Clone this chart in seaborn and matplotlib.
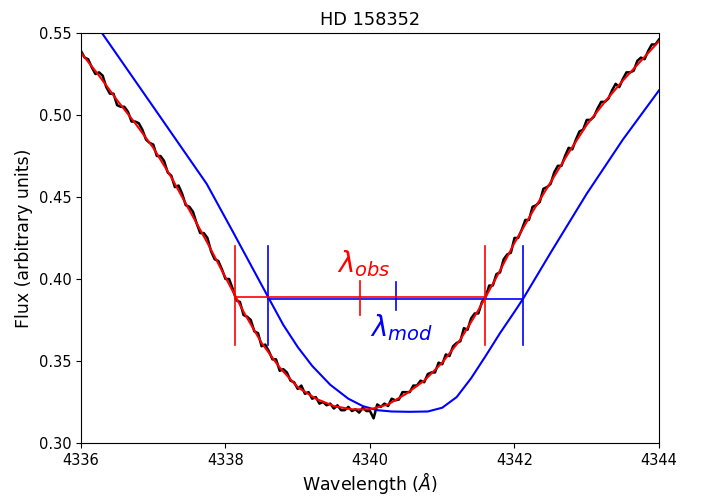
import numpy as np
import pandas as pd
import matplotlib
matplotlib.use("Agg")
import matplotlib.pyplot as plt
import seaborn as sns

# Observed spectrum (0.05 A sampling from 4336 to 4344)
obs_wave = np.linspace(4336.0, 4344.0, 161)
obs_flux = [
    0.539, 0.535, 0.534, 0.529, 0.525,
    0.526, 0.524, 0.517, 0.513, 0.513,
    0.506, 0.505, 0.505, 0.502, 0.496,
    0.496, 0.495, 0.491, 0.485, 0.483,
    0.482, 0.475, 0.475, 0.472, 0.465,
    0.463, 0.456, 0.457, 0.452, 0.445,
    0.444, 0.441, 0.434, 0.428, 0.428,
    0.425, 0.417, 0.412, 0.411, 0.406,
    0.400, 0.400, 0.394, 0.387, 0.386,
    0.378, 0.377, 0.375, 0.368, 0.367,
    0.359, 0.360, 0.356, 0.351, 0.351,
    0.344, 0.345, 0.343, 0.338, 0.337,
    0.333, 0.335, 0.330, 0.331, 0.327,
    0.328, 0.324, 0.325, 0.323, 0.324,
    0.321, 0.323, 0.320, 0.320, 0.322,
    0.3195, 0.3205, 0.3185, 0.3215, 0.3195,
    0.3195, 0.315, 0.3235, 0.322, 0.324,
    0.3225, 0.327, 0.326, 0.3265, 0.331,
    0.331, 0.331, 0.335, 0.335, 0.338,
    0.337, 0.342, 0.343, 0.343, 0.349,
    0.348, 0.354, 0.353, 0.359, 0.361,
    0.362, 0.370, 0.369, 0.376, 0.379,
    0.379, 0.386, 0.389, 0.396, 0.396,
    0.403, 0.404, 0.412, 0.415, 0.416,
    0.425, 0.425, 0.430, 0.436, 0.436,
    0.444, 0.445, 0.447, 0.455, 0.456,
    0.458, 0.465, 0.469, 0.469, 0.475,
    0.480, 0.479, 0.485, 0.490, 0.491,
    0.497, 0.497, 0.499, 0.504, 0.508,
    0.508, 0.510, 0.515, 0.519, 0.517,
    0.522, 0.526, 0.526, 0.527, 0.533,
    0.535, 0.534, 0.539, 0.543, 0.543,
    0.546,
]

# Smooth fit to the observed profile (0.25 A sampling)
fit_wave = np.linspace(4336.0, 4344.0, 33)
fit_flux = [
    0.538, 0.524, 0.509, 0.495, 0.480, 0.462, 0.442, 0.422,
    0.401, 0.380, 0.361, 0.346, 0.334, 0.327, 0.3225, 0.3205,
    0.3205, 0.3235, 0.330, 0.338, 0.349, 0.363, 0.381, 0.401,
    0.422, 0.441, 0.459, 0.477, 0.494, 0.508, 0.521, 0.533, 0.545,
]

# Model profile
mod_wave = [4336.0, 4336.29, 4337.0, 4337.74, 4338.1, 4338.59, 4338.8, 4339.0,
            4339.2, 4339.45, 4339.7, 4339.9, 4340.1, 4340.3, 4340.55, 4340.8,
            4341.0, 4341.2, 4341.4, 4341.6, 4341.8, 4342.0, 4342.12, 4342.5,
            4343.0, 4343.5, 4344.0]
mod_flux = [0.568, 0.550, 0.505, 0.458, 0.429, 0.389, 0.372, 0.3585,
            0.347, 0.3355, 0.327, 0.3225, 0.320, 0.3192, 0.319, 0.3192,
            0.3215, 0.328, 0.3395, 0.353, 0.367, 0.380, 0.388, 0.416,
            0.452, 0.485, 0.515]

# Half-depth measurements
obs_edges = [4338.13, 4341.59]
obs_level = 0.389
mod_edges = [4338.59, 4342.12]
mod_level = 0.388

fig = plt.figure(figsize=(7.03, 4.97), dpi=100)
ax = fig.add_axes([0.1152, 0.1087, 0.8222, 0.8249])

sns.lineplot(x=obs_wave, y=obs_flux, ax=ax, color="black", lw=1.8, sort=False, estimator=None)
sns.lineplot(x=mod_wave, y=mod_flux, ax=ax, color="blue", lw=1.5, sort=False, estimator=None)
sns.lineplot(x=fit_wave, y=fit_flux, ax=ax, color="red", lw=1.5, sort=False, estimator=None)

# model measurement
ax.plot(mod_edges, [mod_level, mod_level], color="blue", lw=1.2)
for e in mod_edges:
    ax.plot([e, e], [0.36, 0.42], color="blue", lw=1.2)
mod_c = np.mean(mod_edges)
ax.plot([mod_c, mod_c], [0.381, 0.398], color="blue", lw=1.2)

# observed measurement
ax.plot(obs_edges, [obs_level, obs_level], color="red", lw=1.2)
for e in obs_edges:
    ax.plot([e, e], [0.36, 0.42], color="red", lw=1.2)
obs_c = np.mean(obs_edges)
ax.plot([obs_c, obs_c], [0.378, 0.3985], color="red", lw=1.2)

ax.text(obs_c + 0.05, 0.4095, r"$\lambda_{obs}$", color="red", fontsize=20, ha="center", va="center")
ax.text(mod_c + 0.08, 0.3705, r"$\lambda_{mod}$", color="blue", fontsize=20, ha="center", va="center")

ax.set_xlim(4336, 4344)
ax.set_ylim(0.30, 0.55)
ax.set_xticks([4336, 4338, 4340, 4342, 4344])
ax.set_yticks([0.30, 0.35, 0.40, 0.45, 0.50, 0.55])
ax.set_yticklabels(["0.30", "0.35", "0.40", "0.45", "0.50", "0.55"])
ax.tick_params(labelsize=10.5)
ax.set_xlabel(r"Wavelength ($\AA$)", fontsize=12.5, labelpad=2)
ax.set_ylabel("Flux (arbitrary units)", fontsize=12.5)
ax.set_title("HD 158352", fontsize=12.8)

fig.savefig("out.png", dpi=100)
